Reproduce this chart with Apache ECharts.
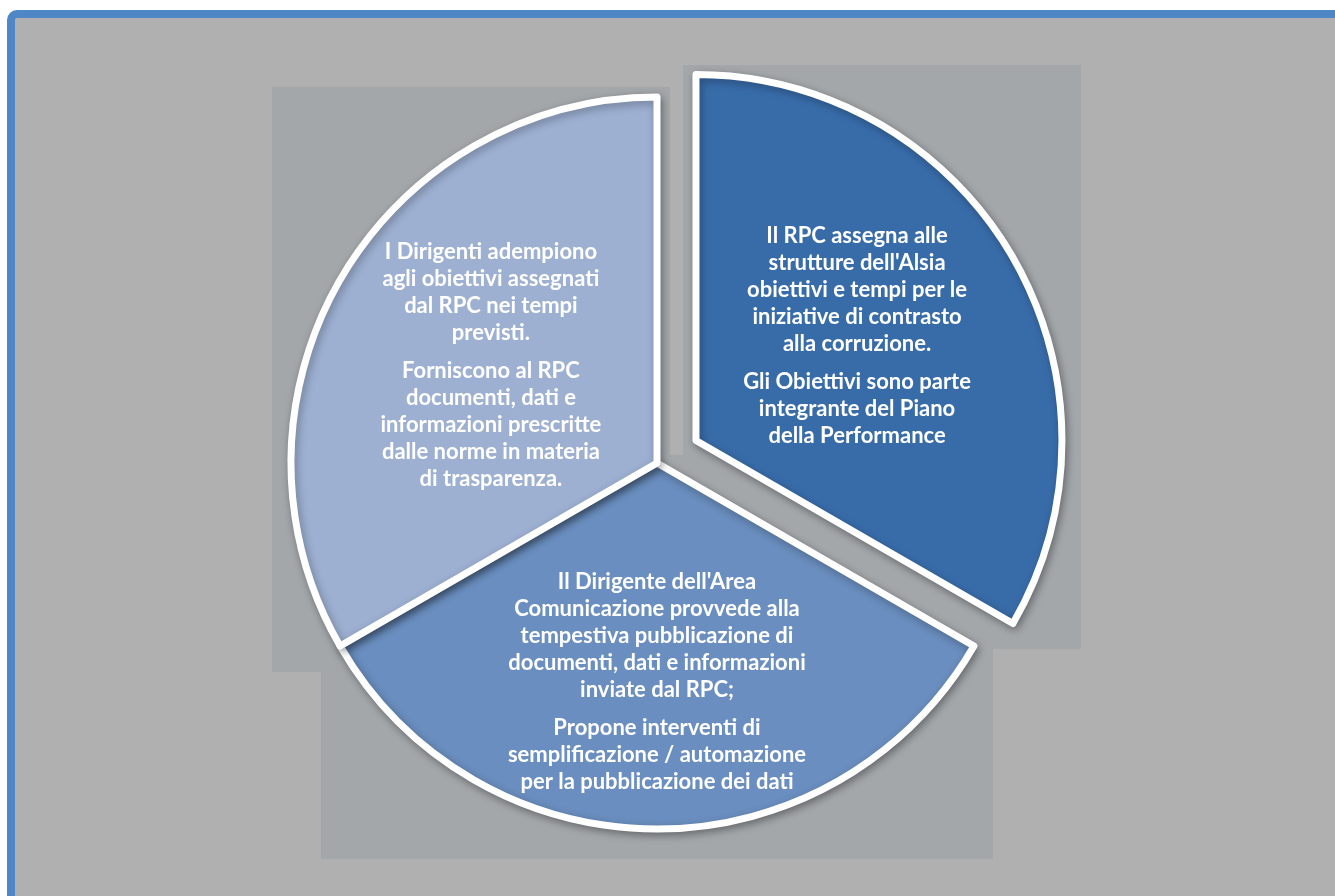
<!DOCTYPE html>
<html>
<head>
<meta charset="utf-8">
<script src="https://cdn.jsdelivr.net/npm/echarts@6/dist/echarts.min.js"></script>
<style>
html,body{margin:0;padding:0;background:#ffffff;}
#chart{width:1335px;height:896px;}
</style>
</head>
<body>
<div id="chart"></div>
<script>
// ---- data ----
const categories = [
  "Il RPC assegna alle\nstrutture dell'Alsia\nobiettivi e tempi per le\niniziative di contrasto\nalla corruzione.\n{g| }\nGli Obiettivi sono parte\nintegrante del Piano\ndella Performance",
  "Il Dirigente dell'Area\nComunicazione provvede alla\ntempestiva pubblicazione di\ndocumenti, dati e informazioni\ninviate dal RPC;\n{g| }\nPropone interventi di\nsemplificazione / automazione\nper la pubblicazione dei dati",
  "I Dirigenti adempiono\nagli obiettivi assegnati\ndal RPC nei tempi\nprevisti.\n{g| }\nForniscono al RPC\ndocumenti, dati e\ninformazioni prescritte\ndalle norme in materia\ndi trasparenza."
];
const values = [1, 1, 1];
const sliceColors = ['#386ca9', '#6a8ebf', '#9db0d2'];
const exploded = [true, false, false];
const labelPadding = [[0, 0, 24, 0], [66, 0, 0, 0], [0, 10, 9, 0]];

const chart = echarts.init(document.getElementById('chart'), null, {renderer: 'canvas'});

const data = categories.map((c, i) => ({
  name: c,
  value: values[i],
  selected: exploded[i],
  itemStyle: {color: sliceColors[i]},
  select: {itemStyle: {color: sliceColors[i], borderColor: '#ffffff', borderWidth: 7}},
  label: {padding: labelPadding[i]}
}));

const option = {
  backgroundColor: '#ffffff',
  animation: false,
  graphic: [
    {type: 'rect', z: 0, silent: true,
     shape: {x: 11, y: 14, width: 1400, height: 1000, r: 6},
     style: {fill: '#b0b0b0', stroke: '#4f86c6', lineWidth: 8}},
    {type: 'rect', z: 1, silent: true,
     shape: {x: 272, y: 87, width: 398, height: 585},
     style: {fill: '#a3a7aa'}},
    {type: 'rect', z: 1, silent: true,
     shape: {x: 683, y: 65, width: 398, height: 584},
     style: {fill: '#a3a7aa'}},
    {type: 'rect', z: 1, silent: true,
     shape: {x: 321, y: 455, width: 672, height: 404},
     style: {fill: '#a3a7aa'}}
  ],
  series: [{
    type: 'pie',
    z: 5,
    center: [657, 463],
    radius: [0, 366],
    startAngle: 90,
    clockwise: true,
    selectedMode: 'single',
    selectedOffset: 45,
    avoidLabelOverlap: false,
    labelLayout: {hideOverlap: false},
    emphasis: {disabled: true},
    itemStyle: {
      borderColor: '#ffffff',
      borderWidth: 7,
      borderJoin: 'round',
      shadowBlur: 8,
      shadowColor: 'rgba(0,0,0,0.3)',
      shadowOffsetX: 2,
      shadowOffsetY: 3
    },
    label: {
      show: true,
      position: 'inside',
      color: '#ffffff',
      fontFamily: 'Lato',
      fontWeight: 'bold',
      fontSize: 22,
      lineHeight: 27,
      align: 'center',
      formatter: '{b}',
      rich: {g: {fontSize: 6, lineHeight: 11}}
    },
    labelLine: {show: false},
    data: data
  }]
};
chart.setOption(option);
</script>
</body>
</html>
